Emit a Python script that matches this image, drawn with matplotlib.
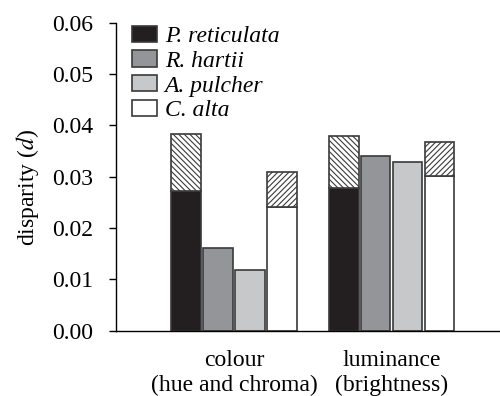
"""Disparity of colour and luminance signals across four species."""

import numpy as np
import matplotlib
matplotlib.use("Agg")
import matplotlib.pyplot as plt
from matplotlib.patches import Patch

# ---------------------------------------------------------------------------
# Data
# ---------------------------------------------------------------------------
GROUPS = ["colour\n(hue and chroma)", "luminance\n(brightness)"]
SPECIES = ["P. reticulata", "R. hartii", "A. pulcher", "C. alta"]
COLOURS = ["#231f20", "#939598", "#c7c8ca", "#ffffff"]

# solid part of each bar, per group
BASE = {
    "P. reticulata": [0.0273, 0.0278],
    "R. hartii": [0.0161, 0.0341],
    "A. pulcher": [0.0118, 0.0329],
    "C. alta": [0.0241, 0.0302],
}
# total height including the hatched part (None = no hatched part)
TOTAL = {
    "P. reticulata": [0.0383, 0.0380],
    "R. hartii": [None, None],
    "A. pulcher": [None, None],
    "C. alta": [0.0309, 0.0367],
}
HATCH = {"P. reticulata": "\\" * 6, "C. alta": "/" * 6}

YTICKS = [0.00, 0.01, 0.02, 0.03, 0.04, 0.05, 0.06]

plt.rcParams["font.family"] = ["Liberation Serif", "DejaVu Serif"]
plt.rcParams["mathtext.fontset"] = "stix"
plt.rcParams["hatch.linewidth"] = 0.8

FS = 17


def main() -> None:
    fig = plt.figure(figsize=(5.0, 3.96), dpi=100)
    ax = fig.add_axes([0.2314, 0.1649, 0.7686, 0.7773])

    x = np.arange(len(GROUPS))
    width = 0.184
    step = 0.2025
    offsets = (np.arange(len(SPECIES)) - 1.5) * step

    for i, sp in enumerate(SPECIES):
        pos = x + offsets[i]
        ax.bar(pos, BASE[sp], width, color=COLOURS[i],
               edgecolor="#3a3a3a", linewidth=1.2, zorder=2)
        for j, tot in enumerate(TOTAL[sp]):
            if tot is None:
                continue
            ax.bar(pos[j], tot - BASE[sp][j], width, bottom=BASE[sp][j],
                   color="white", edgecolor="#3a3a3a", hatch=HATCH[sp],
                   linewidth=1.2, zorder=2)

    ax.set_xlim(-0.749, 1.684)
    ax.set_ylim(0, 0.06)
    ax.set_yticks(YTICKS)
    ax.set_yticklabels([f"{t:.2f}" for t in YTICKS], fontsize=FS)
    ax.set_xticks(x)
    ax.set_xticklabels(GROUPS, fontsize=FS, linespacing=1.2)
    ax.tick_params(axis="x", length=0, pad=14)
    ax.tick_params(axis="y", direction="out", length=5, width=1, pad=11)
    ax.spines["top"].set_visible(False)
    ax.spines["right"].set_visible(False)
    for s in ("left", "bottom"):
        ax.spines[s].set_linewidth(1.0)
    ax.set_ylabel("disparity ($d$)", fontsize=FS)
    ax.yaxis.set_label_coords(-0.195, 0.467)

    handles = [Patch(facecolor=c, edgecolor="#3a3a3a", linewidth=1.2)
               for c in COLOURS]
    ax.legend(handles, SPECIES, loc="upper left",
              bbox_to_anchor=(0.018, 1.022), frameon=False,
              prop={"family": ["Liberation Serif", "DejaVu Serif"],
                    "style": "italic", "size": FS},
              handlelength=1.06, handleheight=0.68, handletextpad=0.32,
              labelspacing=0.145, borderaxespad=0.0)

    fig.savefig("out.png", dpi=100)
    plt.close(fig)


if __name__ == "__main__":
    main()
